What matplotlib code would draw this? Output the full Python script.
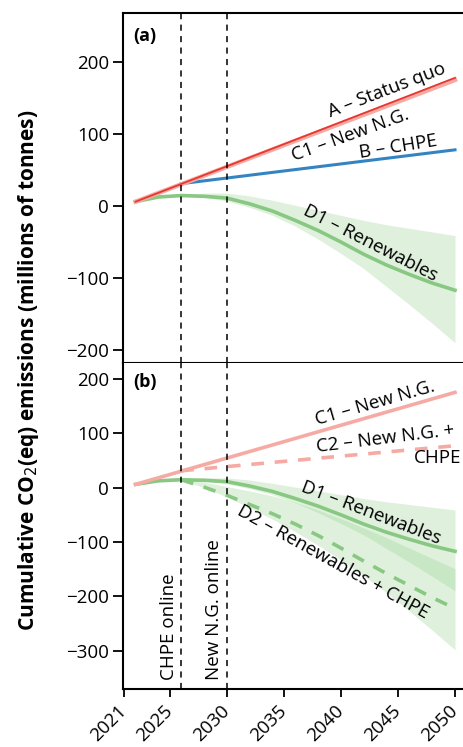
#!/usr/bin/env python
# Cumulative CO2(eq) emissions by scenario, two stacked panels
import matplotlib
matplotlib.use('Agg')
import matplotlib.pyplot as plt

plt.rcParams['font.family'] = ['Open Sans', 'DejaVu Sans']

######################################################################
# Data
######################################################################

line_years = [2022, 2050]
status_quo = [6, 178]        # A
new_ng = [6, 175]            # C1

chpe_years = [2026, 2050]
chpe = [31, 78]              # B
new_ng_chpe = [31, 77]       # C2

years = [2022, 2024, 2026, 2028, 2030, 2032, 2034, 2036, 2038, 2040,
         2042, 2044, 2046, 2048, 2050]
renew = [6, 12.5, 14.5, 13.5, 11, 3, -7, -20, -34, -50, -67, -82, -95,
         -107, -117]                                             # D1

band_years = [2026, 2028, 2030, 2032, 2034, 2036, 2038, 2040, 2042, 2044,
              2046, 2048, 2050]
renew_hi = [14.5, 18, 18, 14, 8, 1, -6, -13, -20, -26, -31, -36, -41]
renew_lo = [14.5, 12, 7, -2, -13, -28, -46, -66, -87, -112, -137, -163, -190]
renew_chpe = [14.5, 1, -14, -31, -48, -67, -88, -111, -135, -158, -180,
              -202, -222]                                        # D2
renew_chpe_hi = [14.5, 10, 2, -6, -15, -27, -41, -57, -74, -92, -111, -130,
                 -149]
renew_chpe_lo = [14.5, 0, -17, -37, -58, -81, -106, -133, -162, -193, -227,
                 -262, -298]

chpe_online = 2026
ng_online = 2030
xticks = [2021, 2025, 2030, 2035, 2040, 2045, 2050]

######################################################################
# Styles
######################################################################

RED = '#e8372e'
PINK = '#f6aaa4'
BLUE = '#3584c2'
GREEN = '#88c882'
BAND = '#8fcf87'
FS = 13.5


def style_axis(ax, ylim, yticks):
    ax.set_xlim(2020.9, 2050.7)
    ax.set_ylim(*ylim)
    ax.set_yticks(yticks)
    ax.spines['right'].set_visible(False)
    for s in ax.spines.values():
        s.set_linewidth(1.5)
    ax.tick_params(axis='y', length=7, width=1.3, labelsize=FS, pad=3)
    ax.tick_params(axis='x', length=6, width=1.3, labelsize=FS, pad=8)
    ax.set_xticks(xticks)
    for x in (chpe_online, ng_online):
        ax.axvline(x, color='black', lw=1.1, ls=(0, (4, 3.5)), zorder=5)


def label(ax, x, y, text, rot, **kw):
    ax.text(x, y, text, rotation=rot, rotation_mode='anchor', ha='center',
            va='center', fontsize=FS, **kw)


fig = plt.figure(figsize=(4.63, 7.47), dpi=100)
ax_a = fig.add_axes([123/463, 1-363/747, 340/463, 350/747])
ax_b = fig.add_axes([123/463, 1-689/747, 340/463, 326/747])

# Panel (a)
ax_a.fill_between(band_years, renew_lo, renew_hi, color=BAND, alpha=0.28,
                  lw=0)
ax_a.plot(years, renew, color=GREEN, lw=2.6)
ax_a.plot(chpe_years, chpe, color=BLUE, lw=2.2)
ax_a.plot(line_years, new_ng, color=PINK, lw=3.2)
ax_a.plot(line_years, status_quo, color=RED, lw=1.3)
style_axis(ax_a, (-218, 268), [-200, -100, 0, 100, 200])
ax_a.tick_params(axis='x', labelbottom=False, length=0)
label(ax_a, 2044.0, 161, 'A – Status quo', 21)
label(ax_a, 2040.8, 99, 'C1 – New N.G.', 20)
label(ax_a, 2045.0, 82, 'B – CHPE', 9)
label(ax_a, 2042.6, -52, 'D1 – Renewables', -27)
ax_a.text(0.03, 0.96, '(a)', transform=ax_a.transAxes, fontsize=FS - 0.5,
          fontweight='bold', va='top')

# Panel (b)
ax_b.fill_between(band_years, renew_lo, renew_hi, color=BAND, alpha=0.28,
                  lw=0)
ax_b.fill_between(band_years, renew_chpe_lo, renew_chpe_hi, color=BAND,
                  alpha=0.28, lw=0)
ax_b.plot(years, renew, color=GREEN, lw=2.6)
ax_b.plot(band_years, renew_chpe, color=GREEN, lw=2.6, ls=(0, (3.5, 3)))
ax_b.plot(line_years, new_ng, color=PINK, lw=2.6)
ax_b.plot(chpe_years, new_ng_chpe, color=PINK, lw=2.6, ls=(0, (3.5, 3)))
style_axis(ax_b, (-370, 229), [-300, -200, -100, 0, 100, 200])
ax_b.spines['top'].set_visible(False)
for t in ax_b.get_xticklabels():
    t.set_rotation(45)
    t.set_ha('right')
    t.set_va('center')
    t.set_rotation_mode('anchor')
label(ax_b, 2043.0, 155, 'C1 – New N.G.', 16)
label(ax_b, 2043.9, 90, 'C2 – New N.G. +', 7)
ax_b.text(2046.4, 55, 'CHPE', fontsize=FS, va='center', ha='left')
label(ax_b, 2042.6, -46, 'D1 – Renewables', -21)
label(ax_b, 2039.3, -137, 'D2 – Renewables + CHPE', -29)
ax_b.text(chpe_online - 0.3, -353, 'CHPE online', rotation=90, ha='right',
          va='bottom', fontsize=FS)
ax_b.text(ng_online - 0.3, -353, 'New N.G. online', rotation=90, ha='right',
          va='bottom', fontsize=FS)
ax_b.text(0.03, 0.97, '(b)', transform=ax_b.transAxes, fontsize=FS - 0.5,
          fontweight='bold', va='top')

fig.text(0.062, 0.505, 'Cumulative CO$_2$(eq) emissions (millions of tonnes)',
         rotation=90, ha='center', va='center', fontsize=15,
         fontweight='bold')

fig.savefig('out.png', dpi=100)
